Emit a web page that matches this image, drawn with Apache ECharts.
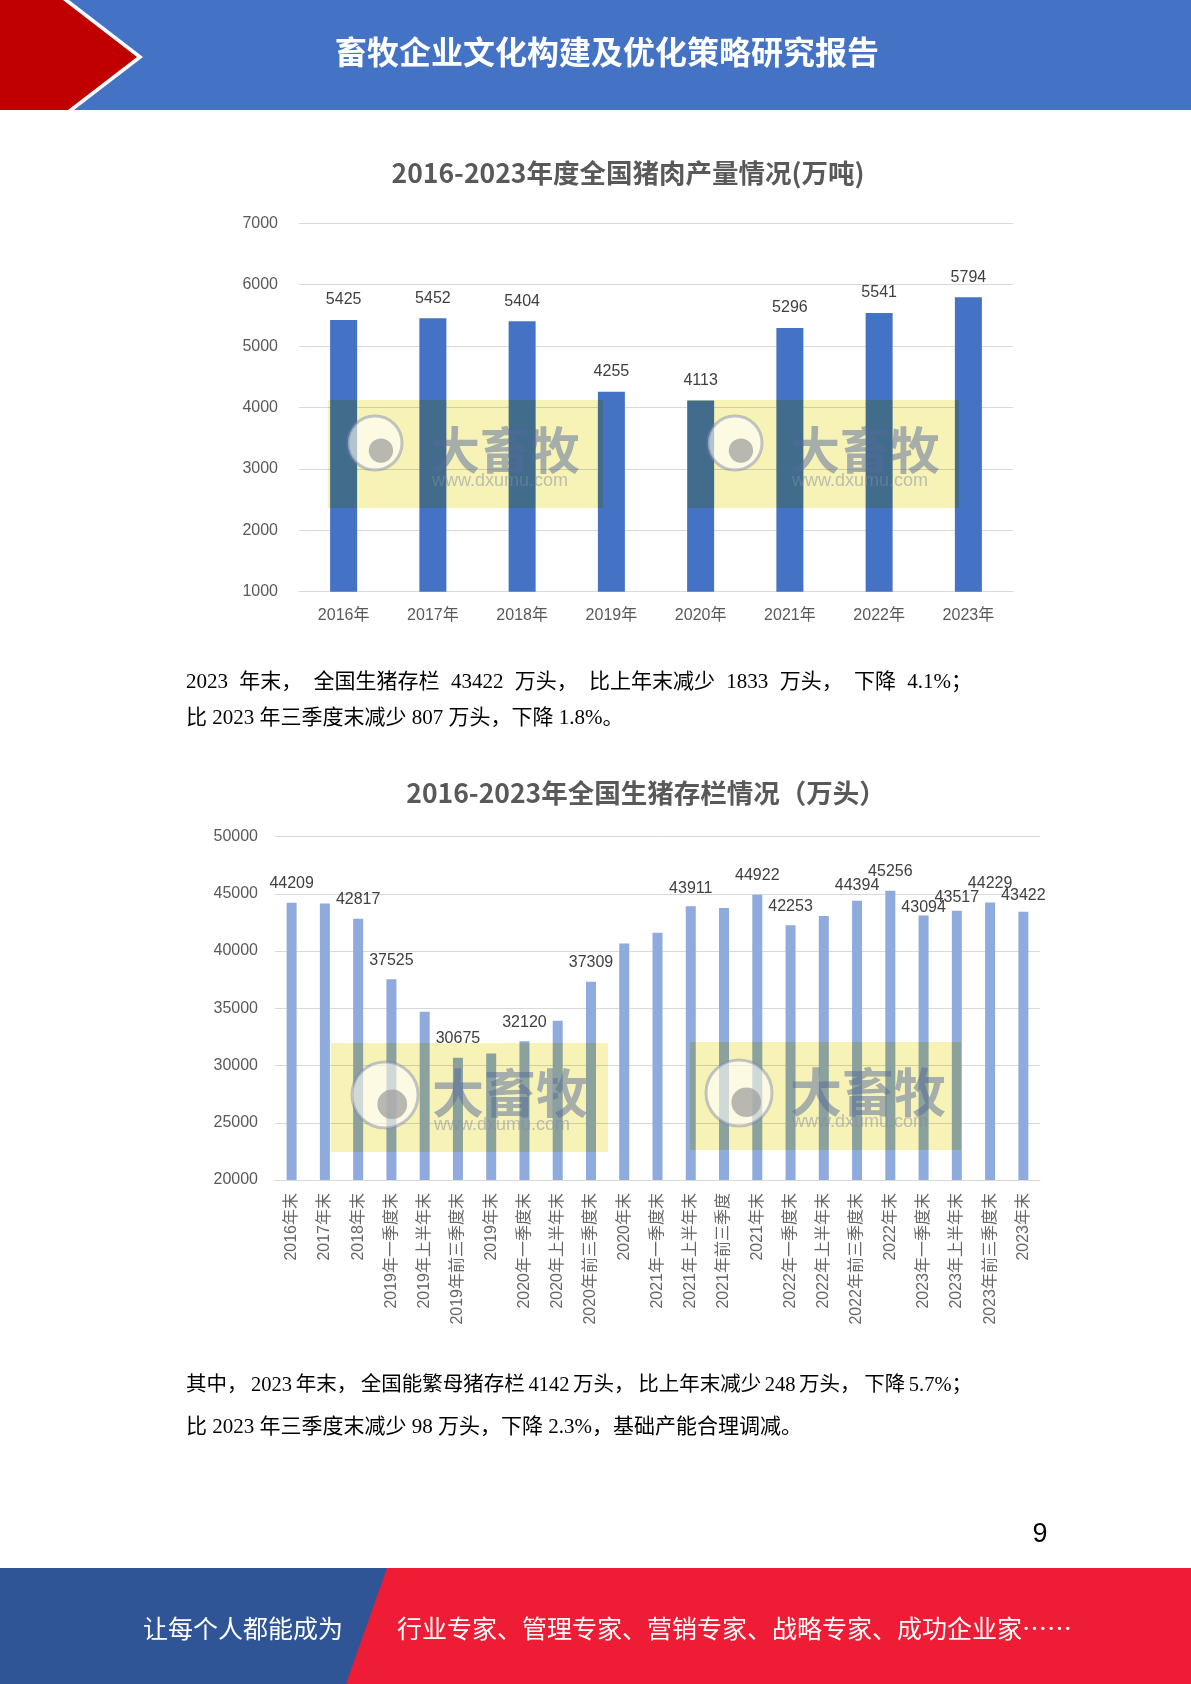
<!DOCTYPE html>
<html><head><meta charset="utf-8">
<script src="https://cdn.jsdelivr.net/npm/echarts@6/dist/echarts.min.js"></script>
<style>html,body{margin:0;padding:0;background:#fff}#c{width:1191px;height:1684px}</style>
</head><body><div id="c"></div>
<script>
// ---------- data ----------
const porkYears = ['2016年','2017年','2018年','2019年','2020年','2021年','2022年','2023年'];
const porkOutput = [5425, 5452, 5404, 4255, 4113, 5296, 5541, 5794];
const porkAxis = [1000, 7000, 1000]; // min, max, step

const hogPeriods = ['2016年末','2017年末','2018年末','2019年一季度末','2019年上半年末','2019年前三季度末','2019年末',
  '2020年一季度末','2020年上半年末','2020年前三季度末','2020年末','2021年一季度末','2021年上半年末','2021年前三季度',
  '2021年末','2022年一季度末','2022年上半年末','2022年前三季度末','2022年末','2023年一季度末','2023年上半年末',
  '2023年前三季度末','2023年末'];
const hogStock = [44209, 44158, 42817, 37525, 34700, 30675, 31041, 32120, 33900, 37309, 40650, 41595, 43911, 43764,
  44922, 42253, 43057, 44394, 45256, 43094, 43517, 44229, 43422];
const hogLabels = [44209, null, 42817, 37525, null, 30675, null, 32120, null, 37309, null, null, 43911, null,
  44922, 42253, null, 44394, 45256, 43094, 43517, 44229, 43422];
const hogAxis = [20000, 50000, 5000];

const headerTitle = '畜牧企业文化构建及优化策略研究报告';
const chart1Title = '2016-2023年度全国猪肉产量情况(万吨)';
const chart2Title = '2016-2023年全国生猪存栏情况（万头）';
const para1 = ['2023 年末，全国生猪存栏 43422 万头，比上年末减少 1833 万头，下降 4.1%；',
               '比 2023 年三季度末减少 807 万头，下降 1.8%。'];
const para2 = ['其中，2023 年末，全国能繁母猪存栏 4142 万头，比上年末减少 248 万头，下降 5.7%；',
               '比 2023 年三季度末减少 98 万头，下降 2.3%，基础产能合理调减。'];
const footerLeft = '让每个人都能成为';
const footerRight = '行业专家、管理专家、营销专家、战略专家、成功企业家……';
const pageNo = '9';

// ---------- styles ----------
const SANS = '"Liberation Sans", "Noto Sans CJK SC", sans-serif';
const CJK = '"Noto Sans CJK SC", sans-serif';
const SERIF = '"Liberation Serif", "Noto Sans CJK SC", serif';

const mctx = document.createElement('canvas').getContext('2d');
function textW(t, size, fam) { mctx.font = size + 'px ' + fam; return mctx.measureText(t).width; }

function txt(text, x, y, size, fam, fill, align, weight, z) {
  return { type: 'text', z: z || 10, style: { text: text, x: x, y: y, fontSize: size, fontFamily: fam,
    fontWeight: weight || 'normal', fill: fill, align: align || 'left', textAlign: align || 'left',
    verticalAlign: 'middle', textVerticalAlign: 'middle' } };
}
// justified line: spaces kept, extra room spread over the word boundaries
function justified(text, x0, x1, y, size) {
  const chunks = text.split(/ |(?<=[，；。、])/).filter(s => s.length);
  const ws = chunks.map(c => textW(c, size, SERIF));
  const total = ws.reduce((a, b) => a + b, 0);
  const gap = (x1 - x0 - total) / (chunks.length - 1);
  const out = []; let x = x0;
  chunks.forEach((c, i) => { out.push(txt(c, x, y, size, SERIF, '#000')); x += ws[i] + gap; });
  return out;
}
function watermark(x, y, w, h, cx, cy, r, tx, ty, uy, big) {
  return [
    { type: 'rect', z: 100, shape: { x: x, y: y, width: w, height: h }, style: { fill: 'rgb(247,242,182)', blend: 'multiply' } },
    { type: 'circle', z: 101, shape: { cx: cx, cy: cy, r: r }, style: { fill: 'rgba(255,255,255,0.6)', stroke: 'rgba(125,132,170,0.45)', lineWidth: 3 } },
    { type: 'circle', z: 102, shape: { cx: cx + r * 0.22, cy: cy + r * 0.28, r: r * 0.45 }, style: { fill: 'rgba(155,155,155,0.7)' } },
    txt('大畜牧', tx, ty, big, CJK, 'rgba(85,105,155,0.5)', 'left', 'bold', 103),
    txt('www.dxumu.com', tx + 2, uy, 18, SANS, 'rgba(130,140,165,0.5)', 'left', 'normal', 103)
  ];
}

const graphics = [
  // header
  { type: 'rect', shape: { x: 0, y: 0, width: 1191, height: 110 }, style: { fill: '#4472C4' } },
  { type: 'polygon', shape: { points: [[0,0],[69,0],[143,57],[74,110],[0,110]] }, style: { fill: '#ffffff' } },
  { type: 'polygon', shape: { points: [[0,0],[63,0],[137,57],[68,110],[0,110]] }, style: { fill: '#C00000' } },
  txt(headerTitle, 607, 52, 32, CJK, '#ffffff', 'center', 'bold'),
  // chart titles
  txt(chart1Title, 628, 173, 26.5, CJK, '#595959', 'center', 'bold'),
  txt(chart2Title, 646, 793, 26.5, CJK, '#595959', 'center', 'bold'),
  // paragraphs
  ...justified(para1[0], 186, 972, 682, 21),
  txt(para1[1], 186, 718.5, 21, SERIF, '#000'),
  ...justified(para2[0], 186, 972, 1385.5, 20.5),
  txt(para2[1], 186, 1427.5, 21, SERIF, '#000'),
  // page number
  txt(pageNo, 1040, 1535, 27, SANS, '#000', 'center'),
  // footer
  { type: 'rect', shape: { x: 0, y: 1568, width: 1191, height: 116 }, style: { fill: '#EE1C34' } },
  { type: 'polygon', shape: { points: [[0,1568],[387,1568],[346,1684],[0,1684]] }, style: { fill: '#2F5597' } },
  txt(footerLeft, 143, 1628, 25, CJK, '#ffffff'),
  txt(footerRight, 397, 1628, 25, CJK, '#ffffff'),
  // watermarks
  ...watermark(328, 400, 275, 108, 375, 443, 27, 430, 450, 481, 50),
  ...watermark(688, 400, 271, 108, 735, 443, 27, 790, 450, 481, 50),
  ...watermark(331, 1043, 277, 109, 385, 1095, 33, 432, 1093, 1125, 52),
  ...watermark(690, 1042, 271, 108, 739, 1093, 33, 790, 1092, 1122, 52)
];

const hogDist = { 12: 10, 17: 7, 19: 0, 20: 5, 22: 8 };
const plain = v => String(v);

const option = {
  animation: false,
  backgroundColor: '#ffffff',
  grid: [
    { left: 299, top: 223.3, width: 714, height: 368.4 },
    { left: 275, top: 836.5, width: 765, height: 343.5 }
  ],
  xAxis: [
    { type: 'category', gridIndex: 0, data: porkYears, axisTick: { show: false },
      axisLine: { show: true, lineStyle: { color: '#D9D9D9' } },
      axisLabel: { margin: 16, fontSize: 16, color: '#595959', fontFamily: SANS } },
    { type: 'category', gridIndex: 1, data: hogPeriods, axisTick: { show: false },
      axisLine: { show: true, lineStyle: { color: '#D9D9D9' } },
      axisLabel: { margin: 13, fontSize: 16, color: '#666666', fontFamily: SANS, rotate: 90, interval: 0 } }
  ],
  yAxis: [
    { type: 'value', gridIndex: 0, min: porkAxis[0], max: porkAxis[1], interval: porkAxis[2],
      axisLine: { show: false }, axisTick: { show: false },
      splitLine: { lineStyle: { color: '#D9D9D9' } },
      axisLabel: { margin: 21, fontSize: 16, color: '#595959', fontFamily: SANS, formatter: plain } },
    { type: 'value', gridIndex: 1, min: hogAxis[0], max: hogAxis[1], interval: hogAxis[2],
      axisLine: { show: false }, axisTick: { show: false },
      splitLine: { lineStyle: { color: '#D9D9D9' } },
      axisLabel: { margin: 17, fontSize: 16, color: '#595959', fontFamily: SANS, formatter: plain } }
  ],
  series: [
    { type: 'bar', xAxisIndex: 0, yAxisIndex: 0, data: porkOutput, barWidth: 27,
      itemStyle: { color: '#4472C4' },
      label: { show: true, position: 'top', distance: 12, fontSize: 16, color: '#404040', fontFamily: SANS } },
    { type: 'bar', xAxisIndex: 1, yAxisIndex: 1, barWidth: 10,
      data: hogStock.map((v, i) => ({
        value: v,
        label: hogLabels[i] == null ? { show: false } :
          { show: true, formatter: String(hogLabels[i]), distance: hogDist[i] != null ? hogDist[i] : 11 }
      })),
      itemStyle: { color: '#8FAADC' },
      label: { show: true, position: 'top', fontSize: 16, color: '#404040', fontFamily: SANS } }
  ],
  graphic: graphics
};

const chart = echarts.init(document.getElementById('c'), null, { renderer: 'canvas', width: 1191, height: 1684 });
chart.setOption(option);
</script>
</body></html>
